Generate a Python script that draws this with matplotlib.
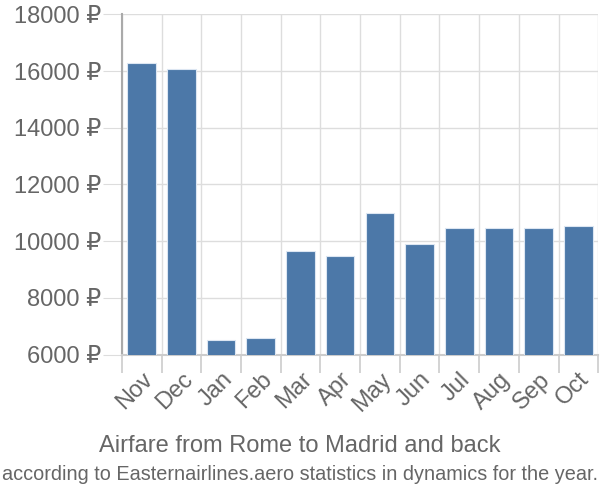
import matplotlib
matplotlib.use("Agg")
import matplotlib.pyplot as plt

# --------------------------
# Data
# --------------------------
months = ["Nov", "Dec", "Jan", "Feb", "Mar", "Apr", "May", "Jun", "Jul", "Aug", "Sep", "Oct"]
prices = [16300, 16070, 6500, 6580, 9650, 9470, 10990, 9910, 10450, 10450, 10450, 10550]
y_ticks = [6000, 8000, 10000, 12000, 14000, 16000, 18000]

title = "Airfare from Rome to Madrid and back"
subtitle = "according to Easternairlines.aero statistics in dynamics for the year."

plt.rcParams["font.family"] = ["Liberation Sans", "DejaVu Sans"]

fig = plt.figure(figsize=(6, 5), dpi=100)
ax = fig.add_axes([0.203, 0.291, 0.794, 0.68])

x = list(range(len(months)))
ax.bar(x, prices, width=0.72, color="#4C78A8", edgecolor="#dce6f2", linewidth=0.8, zorder=3)

ax.set_xlim(-0.5, len(months) - 0.5)
ax.set_ylim(6000, 18000)

# grid: horizontal at ticks, vertical between categories
ax.set_yticks(y_ticks)
ax.set_yticklabels([f"{v} ₽" for v in y_ticks])
ax.set_xticks(x)
ax.set_xticklabels(months, rotation=45, ha="right", rotation_mode="anchor")
ax.set_xticks([i - 0.5 for i in x] + [len(months) - 0.5], minor=True)
ax.grid(True, axis="y", color="#dddddd", linewidth=1, zorder=0)
ax.grid(True, axis="x", which="minor", color="#dddddd", linewidth=1, zorder=0)

ax.tick_params(axis="y", length=14, color="#dddddd", labelsize=17, labelcolor="#666666", pad=1)
ax.tick_params(axis="x", which="major", length=0, labelsize=17, labelcolor="#666666", pad=10)
ax.tick_params(axis="x", which="minor", length=13, color="#cccccc", width=1.2)

for side in ["top", "right"]:
    ax.spines[side].set_visible(False)
ax.spines["left"].set_color("#aaaaaa")
ax.spines["left"].set_linewidth(1.5)
ax.spines["bottom"].set_color("#cccccc")
ax.spines["bottom"].set_linewidth(1.5)

fig.text(0.5, 0.108, title, ha="center", va="center", fontsize=17, color="#666666")
fig.text(0.5, 0.05, subtitle, ha="center", va="center", fontsize=14.3, color="#666666")

fig.savefig("out.png", dpi=100)
